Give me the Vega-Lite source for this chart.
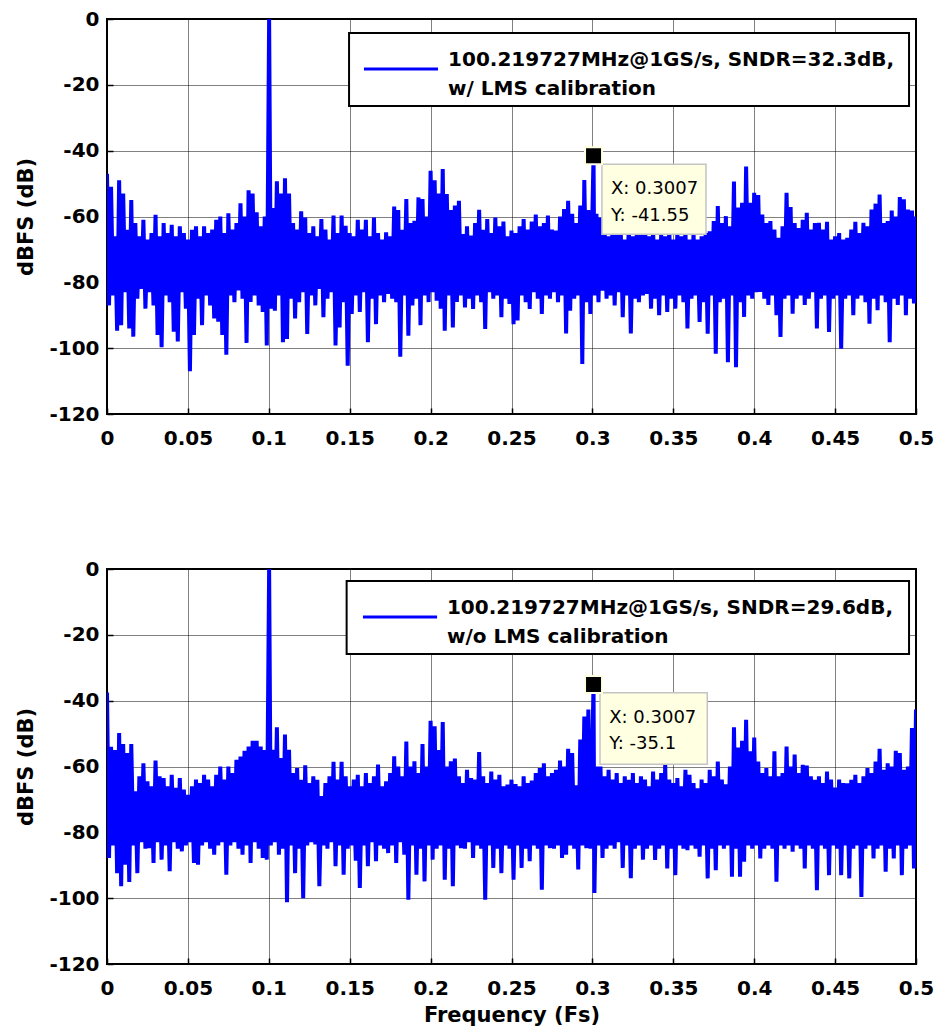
{
  "$schema": "https://vega.github.io/schema/vega-lite/v6.json",
  "background": "white",
  "padding": {"left": 14, "top": 8, "right": 0, "bottom": 5},
  "bounds": "flush",
  "spacing": 155,
  "datasets": {
    "spectrum": [
      {"f":0,"t":-47,"b":-37.5},{"f":0.00125,"t":-87,"b":-87.8},
      {"f":0.0025,"t":-51,"b":-54},{"f":0.00375,"t":-84,"b":-84},
      {"f":0.005,"t":-66,"b":-55},{"f":0.00625,"t":-94.7,"b":-92.4},
      {"f":0.0075,"t":-49,"b":-49.8},{"f":0.00875,"t":-93,"b":-96.4},
      {"f":0.01,"t":-53,"b":-53.2},{"f":0.01125,"t":-83,"b":-89.8},
      {"f":0.0125,"t":-64,"b":-55.9},{"f":0.01375,"t":-94,"b":-95.1},
      {"f":0.015,"t":-55,"b":-53.2},{"f":0.01625,"t":-96.5,"b":-84},
      {"f":0.0175,"t":-62,"b":-67.5},{"f":0.01875,"t":-85,"b":-92.4},
      {"f":0.02,"t":-66,"b":-63},{"f":0.02125,"t":-82,"b":-83},
      {"f":0.0225,"t":-61,"b":-59},{"f":0.02375,"t":-88,"b":-85},
      {"f":0.025,"t":-67,"b":-64.5},{"f":0.02625,"t":-83,"b":-84.8},
      {"f":0.0275,"t":-65,"b":-66},{"f":0.02875,"t":-87,"b":-89.3},
      {"f":0.03,"t":-59.5,"b":-58.2},{"f":0.03125,"t":-96,"b":-83},
      {"f":0.0325,"t":-66,"b":-63},{"f":0.03375,"t":-99.7,"b":-88.3},
      {"f":0.035,"t":-62,"b":-63.5},{"f":0.03625,"t":-84,"b":-84},
      {"f":0.0375,"t":-65,"b":-66},{"f":0.03875,"t":-86,"b":-91.8},
      {"f":0.04,"t":-62.5,"b":-62.5},{"f":0.04125,"t":-95,"b":-83},
      {"f":0.0425,"t":-66,"b":-66.5},{"f":0.04375,"t":-98,"b":-85},
      {"f":0.045,"t":-63,"b":-63.5},{"f":0.04625,"t":-83,"b":-85.8},
      {"f":0.0475,"t":-65,"b":-67},{"f":0.04875,"t":-88,"b":-84},
      {"f":0.05,"t":-67,"b":-68.6},{"f":0.05125,"t":-107,"b":-83},
      {"f":0.0525,"t":-64,"b":-66},{"f":0.05375,"t":-96,"b":-89.3},
      {"f":0.055,"t":-63,"b":-64},{"f":0.05625,"t":-85,"b":-89.8},
      {"f":0.0575,"t":-66,"b":-65},{"f":0.05875,"t":-93,"b":-84},
      {"f":0.06,"t":-63,"b":-62.5},{"f":0.06125,"t":-84,"b":-83},
      {"f":0.0625,"t":-65,"b":-64},{"f":0.06375,"t":-87,"b":-85},
      {"f":0.065,"t":-64,"b":-66},{"f":0.06625,"t":-91,"b":-86.8},
      {"f":0.0675,"t":-61,"b":-62.5},{"f":0.06875,"t":-92,"b":-84},
      {"f":0.07,"t":-60,"b":-60},{"f":0.07125,"t":-96,"b":-83},
      {"f":0.0725,"t":-65,"b":-64},{"f":0.07375,"t":-102,"b":-92.9},
      {"f":0.075,"t":-59,"b":-60},{"f":0.07625,"t":-84,"b":-84},
      {"f":0.0775,"t":-64,"b":-62},{"f":0.07875,"t":-86,"b":-83},
      {"f":0.08,"t":-62,"b":-58},{"f":0.08125,"t":-82.5,"b":-85},
      {"f":0.0825,"t":-56,"b":-57},{"f":0.08375,"t":-85,"b":-86.8},
      {"f":0.085,"t":-60,"b":-55.2},{"f":0.08625,"t":-98.4,"b":-84},
      {"f":0.0875,"t":-52,"b":-53.9},{"f":0.08875,"t":-86,"b":-89.3},
      {"f":0.09,"t":-53,"b":-52.2},{"f":0.09125,"t":-84,"b":-83},
      {"f":0.0925,"t":-58.7,"b":-52.2},{"f":0.09375,"t":-87,"b":-85},
      {"f":0.095,"t":-63,"b":-53.9},{"f":0.09625,"t":-89,"b":-87.8},
      {"f":0.0975,"t":-60,"b":-55},{"f":0.09875,"t":-99.2,"b":-88.3},
      {"f":0.1002,"t":0,"b":0},{"f":0.10125,"t":-88,"b":-84},
      {"f":0.1025,"t":-57.4,"b":-54.9},{"f":0.10375,"t":-88.6,"b":-83},
      {"f":0.105,"t":-49.3,"b":-48.1},{"f":0.10625,"t":-84,"b":-86.8},
      {"f":0.1075,"t":-53,"b":-57.4},{"f":0.10875,"t":-98.2,"b":-85},
      {"f":0.11,"t":-48.4,"b":-50.3},{"f":0.11125,"t":-97.2,"b":-101.2},
      {"f":0.1125,"t":-53,"b":-54.9},{"f":0.11375,"t":-85,"b":-84},
      {"f":0.115,"t":-62,"b":-62},{"f":0.11625,"t":-91,"b":-92.4},
      {"f":0.1175,"t":-64,"b":-60.5},{"f":0.11875,"t":-86,"b":-85},
      {"f":0.12,"t":-58.4,"b":-64},{"f":0.12125,"t":-83,"b":-100},
      {"f":0.1225,"t":-60.3,"b":-59.6},{"f":0.12375,"t":-95.7,"b":-84},
      {"f":0.125,"t":-65,"b":-65},{"f":0.12625,"t":-84,"b":-83},
      {"f":0.1275,"t":-63,"b":-63},{"f":0.12875,"t":-87,"b":-83.7},
      {"f":0.13,"t":-66,"b":-64},{"f":0.13125,"t":-82,"b":-96.4},
      {"f":0.1325,"t":-60.8,"b":-69},{"f":0.13375,"t":-90.6,"b":-84},
      {"f":0.135,"t":-64,"b":-65},{"f":0.13625,"t":-85,"b":-85},
      {"f":0.1375,"t":-67,"b":-63},{"f":0.13875,"t":-83,"b":-83},
      {"f":0.14,"t":-59.7,"b":-58.6},{"f":0.14125,"t":-99.2,"b":-90.3},
      {"f":0.1425,"t":-65,"b":-64},{"f":0.14375,"t":-93.7,"b":-84},
      {"f":0.145,"t":-59.7,"b":-58.6},{"f":0.14625,"t":-86,"b":-92.9},
      {"f":0.1475,"t":-62.8,"b":-63},{"f":0.14875,"t":-105.3,"b":-85},
      {"f":0.15,"t":-65,"b":-66},{"f":0.15125,"t":-89.6,"b":-84},
      {"f":0.1525,"t":-66,"b":-64},{"f":0.15375,"t":-84,"b":-88.6},
      {"f":0.155,"t":-61,"b":-62.5},{"f":0.15625,"t":-89,"b":-96.9},
      {"f":0.1575,"t":-64,"b":-66},{"f":0.15875,"t":-83,"b":-84},
      {"f":0.16,"t":-61,"b":-62},{"f":0.16125,"t":-98.2,"b":-90.3},
      {"f":0.1625,"t":-66,"b":-65},{"f":0.16375,"t":-85,"b":-83},
      {"f":0.165,"t":-60.3,"b":-63},{"f":0.16625,"t":-92.7,"b":-88.8},
      {"f":0.1675,"t":-65,"b":-59.4},{"f":0.16875,"t":-84,"b":-84},
      {"f":0.17,"t":-67,"b":-66},{"f":0.17125,"t":-86,"b":-85},
      {"f":0.1725,"t":-64.8,"b":-64.5},{"f":0.17375,"t":-83.5,"b":-86.3},
      {"f":0.175,"t":-66,"b":-62},{"f":0.17625,"t":-85,"b":-84},
      {"f":0.1775,"t":-57,"b":-56.9},{"f":0.17875,"t":-86,"b":-89.3},
      {"f":0.18,"t":-58,"b":-60},{"f":0.18125,"t":-102.6,"b":-83},
      {"f":0.1825,"t":-64,"b":-63},{"f":0.18375,"t":-84,"b":-86.8},
      {"f":0.185,"t":-54.7,"b":-52.4},{"f":0.18625,"t":-96.2,"b":-100.5},
      {"f":0.1875,"t":-62,"b":-60},{"f":0.18875,"t":-87,"b":-84},
      {"f":0.19,"t":-61.3,"b":-58.4},{"f":0.19125,"t":-85,"b":-92.9},
      {"f":0.1925,"t":-54.2,"b":-62},{"f":0.19375,"t":-93,"b":-85},
      {"f":0.195,"t":-54.7,"b":-53.2},{"f":0.19625,"t":-84,"b":-94.9},
      {"f":0.1975,"t":-60,"b":-60},{"f":0.19875,"t":-86,"b":-84},
      {"f":0.2,"t":-46.1,"b":-46.1},{"f":0.20125,"t":-83,"b":-88.3},
      {"f":0.2025,"t":-49,"b":-47.8},{"f":0.20375,"t":-85.6,"b":-85},
      {"f":0.205,"t":-53,"b":-55},{"f":0.20625,"t":-88,"b":-84},
      {"f":0.2075,"t":-45.6,"b":-46.5},{"f":0.20875,"t":-94.7,"b":-94.4},
      {"f":0.21,"t":-53.2,"b":-60},{"f":0.21125,"t":-84,"b":-85},
      {"f":0.2125,"t":-58,"b":-58.4},{"f":0.21375,"t":-93.7,"b":-96.4},
      {"f":0.215,"t":-56.7,"b":-57.6},{"f":0.21625,"t":-86,"b":-84},
      {"f":0.2175,"t":-55.2,"b":-63},{"f":0.21875,"t":-84,"b":-84.8},
      {"f":0.22,"t":-65.3,"b":-65},{"f":0.22125,"t":-87.6,"b":-85},
      {"f":0.2225,"t":-63,"b":-61},{"f":0.22375,"t":-85,"b":-83},
      {"f":0.225,"t":-65.8,"b":-63.5},{"f":0.22625,"t":-88.1,"b":-87.8},
      {"f":0.2275,"t":-62,"b":-64},{"f":0.22875,"t":-84,"b":-84},
      {"f":0.23,"t":-58,"b":-55.6},{"f":0.23125,"t":-86,"b":-85},
      {"f":0.2325,"t":-64,"b":-63},{"f":0.23375,"t":-94.2,"b":-100.5},
      {"f":0.235,"t":-60.8,"b":-65},{"f":0.23625,"t":-83,"b":-84},
      {"f":0.2375,"t":-65,"b":-61.5},{"f":0.23875,"t":-85,"b":-90.8},
      {"f":0.24,"t":-60.3,"b":-64},{"f":0.24125,"t":-84,"b":-85},
      {"f":0.2425,"t":-63,"b":-62.5},{"f":0.24375,"t":-90.6,"b":-92.4},
      {"f":0.245,"t":-61.5,"b":-66},{"f":0.24625,"t":-85,"b":-84},
      {"f":0.2475,"t":-66,"b":-65.5},{"f":0.24875,"t":-86.6,"b":-85},
      {"f":0.25,"t":-64.3,"b":-64},{"f":0.25125,"t":-92.7,"b":-94.4},
      {"f":0.2525,"t":-65,"b":-65.3},{"f":0.25375,"t":-91.6,"b":-84},
      {"f":0.255,"t":-63,"b":-66},{"f":0.25625,"t":-84,"b":-90.8},
      {"f":0.2575,"t":-60.8,"b":-63},{"f":0.25875,"t":-86,"b":-85},
      {"f":0.26,"t":-64,"b":-65},{"f":0.26125,"t":-88.1,"b":-88.8},
      {"f":0.2625,"t":-61.5,"b":-64.3},{"f":0.26375,"t":-83,"b":-84},
      {"f":0.265,"t":-59.4,"b":-62},{"f":0.26625,"t":-85,"b":-85},
      {"f":0.2675,"t":-63,"b":-60.5},{"f":0.26875,"t":-89.6,"b":-97.4},
      {"f":0.27,"t":-62,"b":-59},{"f":0.27125,"t":-84,"b":-84},
      {"f":0.2725,"t":-59.7,"b":-63},{"f":0.27375,"t":-85,"b":-84.8},
      {"f":0.275,"t":-64,"b":-62},{"f":0.27625,"t":-83,"b":-85},
      {"f":0.2775,"t":-64.3,"b":-61},{"f":0.27875,"t":-86,"b":-84},
      {"f":0.28,"t":-60,"b":-58.2},{"f":0.28125,"t":-84,"b":-87.8},
      {"f":0.2825,"t":-57.7,"b":-60},{"f":0.28375,"t":-95.5,"b":-86.8},
      {"f":0.285,"t":-55.2,"b":-54.6},{"f":0.28625,"t":-88.6,"b":-84},
      {"f":0.2875,"t":-59.2,"b":-55.9},{"f":0.28875,"t":-85,"b":-85},
      {"f":0.29,"t":-62,"b":-65.7},{"f":0.29125,"t":-84,"b":-91.3},
      {"f":0.2925,"t":-56.7,"b":-51.8},{"f":0.29375,"t":-104.8,"b":-84},
      {"f":0.295,"t":-48.9,"b":-44.8},{"f":0.29625,"t":-86,"b":-84.8},
      {"f":0.2975,"t":-58,"b":-42.7},{"f":0.29875,"t":-89.6,"b":-85},
      {"f":0.3007,"t":-41.55,"b":-35.1},{"f":0.30125,"t":-84,"b":-98.4},
      {"f":0.3025,"t":-59.2,"b":-60},{"f":0.30375,"t":-86,"b":-84},
      {"f":0.305,"t":-60.3,"b":-60},{"f":0.30625,"t":-82.5,"b":-87.8},
      {"f":0.3075,"t":-63,"b":-63},{"f":0.30875,"t":-85,"b":-85},
      {"f":0.31,"t":-66,"b":-61},{"f":0.31125,"t":-84,"b":-84},
      {"f":0.3125,"t":-62,"b":-64},{"f":0.31375,"t":-87,"b":-85},
      {"f":0.315,"t":-65,"b":-62},{"f":0.31625,"t":-83,"b":-83},
      {"f":0.3175,"t":-64,"b":-65},{"f":0.31875,"t":-90.6,"b":-90.8},
      {"f":0.32,"t":-67,"b":-63},{"f":0.32125,"t":-84,"b":-84},
      {"f":0.3225,"t":-63,"b":-64},{"f":0.32375,"t":-95.5,"b":-93.9},
      {"f":0.325,"t":-66,"b":-62},{"f":0.32625,"t":-85,"b":-85},
      {"f":0.3275,"t":-64,"b":-65},{"f":0.32875,"t":-86,"b":-84},
      {"f":0.33,"t":-65,"b":-63},{"f":0.33125,"t":-84,"b":-88.3},
      {"f":0.3325,"t":-62,"b":-64},{"f":0.33375,"t":-83.5,"b":-85},
      {"f":0.335,"t":-66,"b":-66},{"f":0.33625,"t":-88,"b":-84},
      {"f":0.3375,"t":-64,"b":-61.5},{"f":0.33875,"t":-85,"b":-88.4},
      {"f":0.34,"t":-67,"b":-64},{"f":0.34125,"t":-90,"b":-85},
      {"f":0.3425,"t":-65.5,"b":-62},{"f":0.34375,"t":-84,"b":-84},
      {"f":0.345,"t":-66,"b":-59.5},{"f":0.34625,"t":-89,"b":-91},
      {"f":0.3475,"t":-64,"b":-64},{"f":0.34875,"t":-85,"b":-85},
      {"f":0.35,"t":-67,"b":-65},{"f":0.35125,"t":-88,"b":-93},
      {"f":0.3525,"t":-65,"b":-63.5},{"f":0.35375,"t":-84,"b":-84},
      {"f":0.355,"t":-66,"b":-66},{"f":0.35625,"t":-86,"b":-85},
      {"f":0.3575,"t":-64,"b":-61},{"f":0.35875,"t":-94,"b":-85.4},
      {"f":0.36,"t":-67,"b":-62.5},{"f":0.36125,"t":-85,"b":-84},
      {"f":0.3625,"t":-65,"b":-65},{"f":0.36375,"t":-84,"b":-85},
      {"f":0.365,"t":-67,"b":-66.6},{"f":0.36625,"t":-92,"b":-87.4},
      {"f":0.3675,"t":-66,"b":-64},{"f":0.36875,"t":-86,"b":-84},
      {"f":0.37,"t":-65,"b":-65},{"f":0.37125,"t":-95.6,"b":-94},
      {"f":0.3725,"t":-64.5,"b":-61},{"f":0.37375,"t":-84,"b":-85},
      {"f":0.375,"t":-61.4,"b":-63},{"f":0.37625,"t":-101.7,"b":-91.5},
      {"f":0.3775,"t":-56.8,"b":-58.5},{"f":0.37875,"t":-86,"b":-84},
      {"f":0.38,"t":-62,"b":-64},{"f":0.38125,"t":-85,"b":-85},
      {"f":0.3825,"t":-59.9,"b":-65.4},{"f":0.38375,"t":-104.3,"b":-84},
      {"f":0.385,"t":-63,"b":-60},{"f":0.38625,"t":-84,"b":-93.5},
      {"f":0.3875,"t":-49.4,"b":-48.1},{"f":0.38875,"t":-105.8,"b":-85},
      {"f":0.39,"t":-57.3,"b":-54.2},{"f":0.39125,"t":-86,"b":-93.5},
      {"f":0.3925,"t":-55.8,"b":-52.2},{"f":0.39375,"t":-90.5,"b":-88.9},
      {"f":0.395,"t":-44.8,"b":-45.8},{"f":0.39625,"t":-84,"b":-84},
      {"f":0.3975,"t":-55.8,"b":-55.4},{"f":0.39875,"t":-85,"b":-85},
      {"f":0.4,"t":-52.8,"b":-51.2},{"f":0.40125,"t":-83,"b":-84},
      {"f":0.4025,"t":-53.5,"b":-58.5},{"f":0.40375,"t":-82.9,"b":-87.9},
      {"f":0.405,"t":-59.4,"b":-62},{"f":0.40625,"t":-85,"b":-85},
      {"f":0.4075,"t":-62,"b":-60.5},{"f":0.40875,"t":-86.9,"b":-84},
      {"f":0.41,"t":-61.4,"b":-63},{"f":0.41125,"t":-84,"b":-85},
      {"f":0.4125,"t":-64,"b":-55.4},{"f":0.41375,"t":-90,"b":-95},
      {"f":0.415,"t":-66.5,"b":-63},{"f":0.41625,"t":-96.6,"b":-84},
      {"f":0.4175,"t":-63,"b":-62},{"f":0.41875,"t":-85,"b":-85},
      {"f":0.42,"t":-52.8,"b":-53.9},{"f":0.42125,"t":-84,"b":-84},
      {"f":0.4225,"t":-57.1,"b":-60},{"f":0.42375,"t":-89.5,"b":-85.9},
      {"f":0.425,"t":-62,"b":-56.4},{"f":0.42625,"t":-85,"b":-84},
      {"f":0.4275,"t":-63.5,"b":-62},{"f":0.42875,"t":-84,"b":-85},
      {"f":0.43,"t":-61,"b":-59.5},{"f":0.43125,"t":-86.9,"b":-91},
      {"f":0.4325,"t":-58.9,"b":-59.7},{"f":0.43375,"t":-85,"b":-84},
      {"f":0.435,"t":-64,"b":-63},{"f":0.43625,"t":-83,"b":-85},
      {"f":0.4375,"t":-62,"b":-64},{"f":0.43875,"t":-94,"b":-97.6},
      {"f":0.44,"t":-61.9,"b":-63},{"f":0.44125,"t":-85,"b":-84},
      {"f":0.4425,"t":-64,"b":-65},{"f":0.44375,"t":-84,"b":-85},
      {"f":0.445,"t":-61.6,"b":-61.5},{"f":0.44625,"t":-95.1,"b":-93},
      {"f":0.4475,"t":-67,"b":-64},{"f":0.44875,"t":-85,"b":-84},
      {"f":0.45,"t":-66,"b":-66.4},{"f":0.45125,"t":-84,"b":-85},
      {"f":0.4525,"t":-65,"b":-64},{"f":0.45375,"t":-100.2,"b":-93},
      {"f":0.455,"t":-67,"b":-65},{"f":0.45625,"t":-85,"b":-84},
      {"f":0.4575,"t":-66.5,"b":-65.1},{"f":0.45875,"t":-84,"b":-94},
      {"f":0.46,"t":-64,"b":-64},{"f":0.46125,"t":-90,"b":-85},
      {"f":0.4625,"t":-61.6,"b":-62.5},{"f":0.46375,"t":-85,"b":-84},
      {"f":0.465,"t":-65,"b":-65},{"f":0.46625,"t":-84,"b":-99.6},
      {"f":0.4675,"t":-61.9,"b":-63},{"f":0.46875,"t":-86,"b":-85},
      {"f":0.47,"t":-63,"b":-60.5},{"f":0.47125,"t":-92.6,"b":-84},
      {"f":0.4725,"t":-57.9,"b":-62},{"f":0.47375,"t":-85,"b":-87.9},
      {"f":0.475,"t":-56.1,"b":-58.5},{"f":0.47625,"t":-88.5,"b":-85},
      {"f":0.4775,"t":-53.3,"b":-54.6},{"f":0.47875,"t":-84,"b":-84},
      {"f":0.48,"t":-62,"b":-61},{"f":0.48125,"t":-86,"b":-92},
      {"f":0.4825,"t":-61.4,"b":-59},{"f":0.48375,"t":-98.2,"b":-85},
      {"f":0.485,"t":-58.2,"b":-60},{"f":0.48625,"t":-85,"b":-87.9},
      {"f":0.4875,"t":-60,"b":-55.2},{"f":0.48875,"t":-86.9,"b":-84},
      {"f":0.49,"t":-54.1,"b":-55.9},{"f":0.49125,"t":-84,"b":-93},
      {"f":0.4925,"t":-54.8,"b":-61},{"f":0.49375,"t":-90,"b":-85},
      {"f":0.495,"t":-57.9,"b":-60},{"f":0.49625,"t":-85,"b":-84},
      {"f":0.4975,"t":-58.2,"b":-48.3},{"f":0.49875,"t":-86.4,"b":-91},
      {"f":0.5,"t":-60,"b":-42.7}
    ]
  },
  "config": {
    "view": {"stroke": "black", "strokeWidth": 2},
    "axis": {
      "labelFont": "DejaVu Sans", "labelFontWeight": "bold", "labelFontSize": 20, "labelColor": "black",
      "titleFont": "DejaVu Sans", "titleFontWeight": "bold", "titleFontSize": 21, "titleColor": "black",
      "grid": true, "gridColor": "black", "gridDash": [1, 1], "gridWidth": 1, "gridOpacity": 1,
      "domain": false, "ticks": true, "tickColor": "black", "tickSize": -6, "tickWidth": 1.5,
      "labelFlush": false, "labelOverlap": false
    },
    "axisX": {"labelPadding": 20, "titlePadding": 6},
    "axisY": {"labelPadding": 14, "titlePadding": 12}
  },
  "vconcat": [
    {
      "width": 809,
      "height": 395,
      "layer": [
        {
          "data": {"name": "spectrum"},
          "mark": {"type": "line", "color": "#0000FF", "strokeWidth": 4, "strokeJoin": "bevel", "clip": true},
          "encoding": {
            "x": {"field": "f", "type": "quantitative", "title": null,
                  "scale": {"domain": [0, 0.5], "nice": false, "zero": false},
                  "axis": {"values": [0, 0.05, 0.1, 0.15, 0.2, 0.25, 0.3, 0.35, 0.4, 0.45, 0.5], "labelExpr": "datum.value + ''"}},
            "y": {"field": "t", "type": "quantitative", "title": "dBFS (dB)",
                  "scale": {"domain": [-120, 0], "nice": false},
                  "axis": {"values": [-120, -100, -80, -60, -40, -20, 0], "labelExpr": "datum.value + ''"}}
          }
        },
        {
          "data": {"values": [{}]},
          "mark": {"type": "rect", "fill": "white", "stroke": "black", "strokeWidth": 2},
          "encoding": {
            "x": {"datum": 0.1496, "type": "quantitative"}, "x2": {"datum": 0.4957},
            "y": {"datum": -4.25, "type": "quantitative"}, "y2": {"datum": -26.4}
          }
        },
        {
          "data": {"values": [{}]},
          "mark": {"type": "rule", "color": "#0000FF", "strokeWidth": 3},
          "encoding": {
            "x": {"datum": 0.1588, "type": "quantitative"}, "x2": {"datum": 0.2046},
            "y": {"datum": -15.2, "type": "quantitative"}
          }
        },
        {
          "data": {"values": [{}]},
          "mark": {"type": "text", "align": "left", "baseline": "alphabetic", "font": "DejaVu Sans", "fontWeight": "bold", "fontSize": 20, "lineHeight": 29, "color": "black"},
          "encoding": {
            "x": {"datum": 0.2108, "type": "quantitative"},
            "y": {"datum": -14.3, "type": "quantitative"},
            "text": {"value": ["100.219727MHz@1GS/s, SNDR=32.3dB,", "w/ LMS calibration"]}
          }
        },
        {
          "data": {"values": [{}]},
          "mark": {"type": "rect", "fill": "#FFFFE1", "stroke": "#C4C4C4", "strokeWidth": 1.5},
          "encoding": {
            "x": {"datum": 0.3059, "type": "quantitative"}, "x2": {"datum": 0.3702},
            "y": {"datum": -44.1, "type": "quantitative"}, "y2": {"datum": -65.4}
          }
        },
        {
          "data": {"values": [{}]},
          "mark": {"type": "text", "align": "left", "baseline": "alphabetic", "font": "DejaVu Sans", "fontSize": 18, "lineHeight": 27, "color": "black"},
          "encoding": {
            "x": {"datum": 0.3115, "type": "quantitative"},
            "y": {"datum": -53.1, "type": "quantitative"},
            "text": {"value": ["X: 0.3007", "Y: -41.55"]}
          }
        },
        {
          "data": {"values": [{}]},
          "mark": {"type": "point", "shape": "square", "filled": true, "fill": "black", "stroke": "#FFFFE1", "strokeWidth": 2, "size": 289, "opacity": 1},
          "encoding": {
            "x": {"datum": 0.3007, "type": "quantitative"},
            "y": {"datum": -41.55, "type": "quantitative"}
          }
        }
      ]
    },
    {
      "width": 809,
      "height": 395,
      "layer": [
        {
          "data": {"name": "spectrum"},
          "mark": {"type": "line", "color": "#0000FF", "strokeWidth": 4, "strokeJoin": "bevel", "clip": true},
          "encoding": {
            "x": {"field": "f", "type": "quantitative", "title": "Frequency (Fs)",
                  "scale": {"domain": [0, 0.5], "nice": false, "zero": false},
                  "axis": {"values": [0, 0.05, 0.1, 0.15, 0.2, 0.25, 0.3, 0.35, 0.4, 0.45, 0.5], "labelExpr": "datum.value + ''"}},
            "y": {"field": "b", "type": "quantitative", "title": "dBFS (dB)",
                  "scale": {"domain": [-120, 0], "nice": false},
                  "axis": {"values": [-120, -100, -80, -60, -40, -20, 0], "labelExpr": "datum.value + ''"}}
          }
        },
        {
          "data": {"values": [{}]},
          "mark": {"type": "rect", "fill": "white", "stroke": "black", "strokeWidth": 2},
          "encoding": {
            "x": {"datum": 0.1481, "type": "quantitative"}, "x2": {"datum": 0.4957},
            "y": {"datum": -3.65, "type": "quantitative"}, "y2": {"datum": -25.8}
          }
        },
        {
          "data": {"values": [{}]},
          "mark": {"type": "rule", "color": "#0000FF", "strokeWidth": 3},
          "encoding": {
            "x": {"datum": 0.1582, "type": "quantitative"}, "x2": {"datum": 0.204},
            "y": {"datum": -14.6, "type": "quantitative"}
          }
        },
        {
          "data": {"values": [{}]},
          "mark": {"type": "text", "align": "left", "baseline": "alphabetic", "font": "DejaVu Sans", "fontWeight": "bold", "fontSize": 20, "lineHeight": 29, "color": "black"},
          "encoding": {
            "x": {"datum": 0.2101, "type": "quantitative"},
            "y": {"datum": -13.7, "type": "quantitative"},
            "text": {"value": ["100.219727MHz@1GS/s, SNDR=29.6dB,", "w/o LMS calibration"]}
          }
        },
        {
          "data": {"values": [{}]},
          "mark": {"type": "rect", "fill": "#FFFFE1", "stroke": "#C4C4C4", "strokeWidth": 1.5},
          "encoding": {
            "x": {"datum": 0.3047, "type": "quantitative"}, "x2": {"datum": 0.371},
            "y": {"datum": -37.6, "type": "quantitative"}, "y2": {"datum": -59.3}
          }
        },
        {
          "data": {"values": [{}]},
          "mark": {"type": "text", "align": "left", "baseline": "alphabetic", "font": "DejaVu Sans", "fontSize": 18, "lineHeight": 26, "color": "black"},
          "encoding": {
            "x": {"datum": 0.3104, "type": "quantitative"},
            "y": {"datum": -46.7, "type": "quantitative"},
            "text": {"value": ["X: 0.3007", "Y: -35.1"]}
          }
        },
        {
          "data": {"values": [{}]},
          "mark": {"type": "point", "shape": "square", "filled": true, "fill": "black", "stroke": "#FFFFE1", "strokeWidth": 2, "size": 289, "opacity": 1},
          "encoding": {
            "x": {"datum": 0.3007, "type": "quantitative"},
            "y": {"datum": -35.1, "type": "quantitative"}
          }
        }
      ]
    }
  ]
}
